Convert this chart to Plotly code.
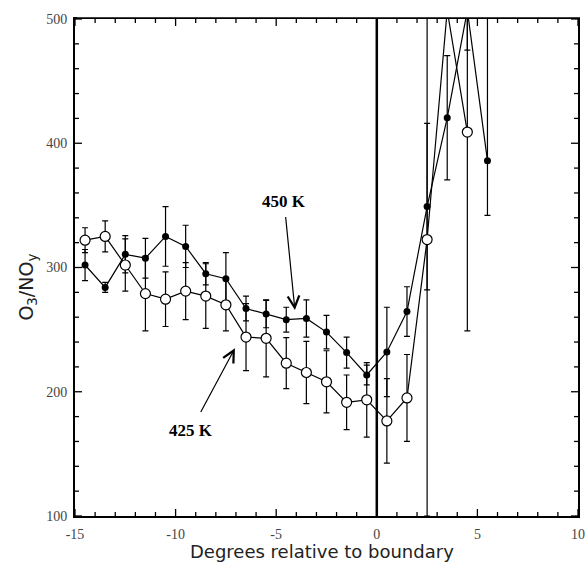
import plotly.graph_objects as go

# ---- data ----
x_450 = [-14.5, -13.5, -12.5, -11.5, -10.5, -9.5, -8.5, -7.5, -6.5, -5.5, -4.5,
         -3.5, -2.5, -1.5, -0.5, 0.5, 1.5, 2.5, 3.5, 4.5, 5.5]
y_450 = [302, 284, 310.6, 307.5, 325, 317, 295, 291, 267, 262.5, 258,
         259, 248, 231.5, 213.5, 232, 264.5, 349, 420.5, 507, 386]
err_450_plus = [12.5, 4, 15, 16, 24, 17, 9, 21, 10, 11, 10,
                15, 13.5, 12.5, 8, 36, 20, 67, 50, 32, 150]
err_450_minus = [12.5, 4, 15, 16, 24, 17, 9, 21, 10, 11, 10,
                 15, 13.5, 12.5, 8, 36, 20, 67, 50, 32, 44]

x_425 = [-14.5, -13.5, -12.5, -11.5, -10.5, -9.5, -8.5, -7.5, -6.5, -5.5, -4.5,
         -3.5, -2.5, -1.5, -0.5, 0.5, 1.5, 2.5, 3.5, 4.5]
y_425 = [322, 325, 302, 279, 274.5, 281, 277, 270, 244, 243, 223,
         215.5, 208, 191.5, 193.5, 176.5, 195, 322.5, 507, 409]
err_425_plus = [10, 12.5, 21, 30, 22, 23, 26, 21, 27, 31, 20.5,
                25, 25, 22, 30, 34, 35, 240, 5, 160]
err_425_minus = [10, 12.5, 21, 30, 22, 23, 26, 21, 27, 31, 20.5,
                 25, 25, 22, 30, 34, 35, 222.5, 5, 160]

boundary_x = 0
x_range = [-15, 10]
y_range = [100, 500]
x_tick_vals = [-15, -10, -5, 0, 5, 10]
x_tick_text = ["-15", "-10", "-5", "0", "5", "10"]
x_minor_vals = [v for v in range(-15, 11) if v % 5 != 0]
y_tick_vals = [100, 200, 300, 400, 500]
y_tick_text = ["100", "200", "300", "400", "500"]
y_minor_vals = [v for v in range(100, 501, 20) if v % 100 != 0]
x_title = "Degrees relative to boundary"
y_title = "O<sub>3</sub>/NO<sub>y</sub>"

W, H = 585, 566
M = dict(l=75, r=7, t=19, b=50)
px_x = (x_range[1] - x_range[0]) / (W - M["l"] - M["r"])   # data units per pixel
px_y = (y_range[1] - y_range[0]) / (H - M["t"] - M["b"])

fig = go.Figure()

# inward tick marks on all four sides, drawn as short line segments
def tick_segments():
    xs, ys = [], []
    for vals, ln in ((x_tick_vals, 7), (x_minor_vals, 4)):
        for v in vals:
            xs += [v, v, None, v, v, None]
            ys += [y_range[0], y_range[0] + ln * px_y, None,
                   y_range[1], y_range[1] - ln * px_y, None]
    for vals, ln in ((y_tick_vals, 7), (y_minor_vals, 4)):
        for v in vals:
            ys += [v, v, None, v, v, None]
            xs += [x_range[0], x_range[0] + ln * px_x, None,
                   x_range[1], x_range[1] - ln * px_x, None]
    return xs, ys
tx, ty = tick_segments()
fig.add_trace(go.Scatter(x=tx, y=ty, mode="lines", hoverinfo="skip",
                         line=dict(color="black", width=1.3)))

fig.add_trace(go.Scatter(
    x=x_450, y=y_450, mode="lines+markers", name="450 K",
    line=dict(color="black", width=1.2),
    marker=dict(symbol="circle", size=7, color="black"),
    error_y=dict(type="data", array=err_450_plus, arrayminus=err_450_minus,
                 symmetric=False, color="black", thickness=1.2, width=3),
))
fig.add_trace(go.Scatter(
    x=x_425, y=y_425, mode="lines+markers", name="425 K",
    line=dict(color="black", width=1.2),
    marker=dict(symbol="circle", size=10, color="white",
                line=dict(color="black", width=1.2)),
    error_y=dict(type="data", array=err_425_plus, arrayminus=err_425_minus,
                 symmetric=False, color="black", thickness=1.2, width=3),
))

# boundary line
fig.add_shape(type="line", xref="x", yref="paper", x0=boundary_x, x1=boundary_x,
              y0=0, y1=1, line=dict(color="black", width=2.5))
# mask anything that overflows above the plotting area
fig.add_shape(type="rect", xref="paper", yref="paper", x0=0.004, x1=1.02,
              y0=1.0035, y1=1.1, fillcolor="white", line=dict(width=0),
              layer="above")

label_font = dict(family="Liberation Serif", size=17, color="black")
fig.add_annotation(x=-4.07, y=265.8, ax=-4.61, ay=353.5, xref="x", yref="y",
                   axref="x", ayref="y", text="<b>450 K</b>", font=label_font,
                   showarrow=True, arrowhead=5, arrowsize=1.9, arrowwidth=1.2,
                   arrowcolor="black", startstandoff=5)
fig.add_annotation(x=-7.05, y=235, ax=-9.23, ay=169.2, xref="x", yref="y",
                   axref="x", ayref="y", text="<b>425 K</b>", font=label_font,
                   showarrow=True, arrowhead=5, arrowsize=1.9, arrowwidth=1.2,
                   arrowcolor="black", startstandoff=8)

# axis titles
fig.add_annotation(text=y_title, xref="paper", yref="paper", x=-0.095, y=0.46,
                   textangle=-90, showarrow=False,
                   font=dict(family="DejaVu Sans", size=19, color="#222"),
                   xanchor="center", yanchor="middle")
fig.add_annotation(text=x_title, xref="paper", yref="paper", x=0.491, y=-0.0975,
                   showarrow=False,
                   font=dict(family="DejaVu Sans", size=18, color="#222"),
                   xanchor="center", yanchor="bottom")

tick_font = dict(family="Liberation Serif", size=14, color="#444")
fig.update_layout(
    width=W, height=H,
    margin=M,
    paper_bgcolor="white", plot_bgcolor="white",
    showlegend=False,
    xaxis=dict(range=x_range, tickmode="array", tickvals=x_tick_vals,
               ticktext=x_tick_text, ticks="", showgrid=False, zeroline=False,
               showline=True, linecolor="black", linewidth=2, mirror=True,
               tickfont=tick_font, ticklabelstandoff=4, automargin=False),
    yaxis=dict(range=y_range, tickmode="array", tickvals=y_tick_vals,
               ticktext=y_tick_text, ticks="", showgrid=False, zeroline=False,
               showline=True, linecolor="black", linewidth=2, mirror=True,
               tickfont=tick_font, ticklabelstandoff=3, automargin=False),
)

fig.write_html("out.html")
